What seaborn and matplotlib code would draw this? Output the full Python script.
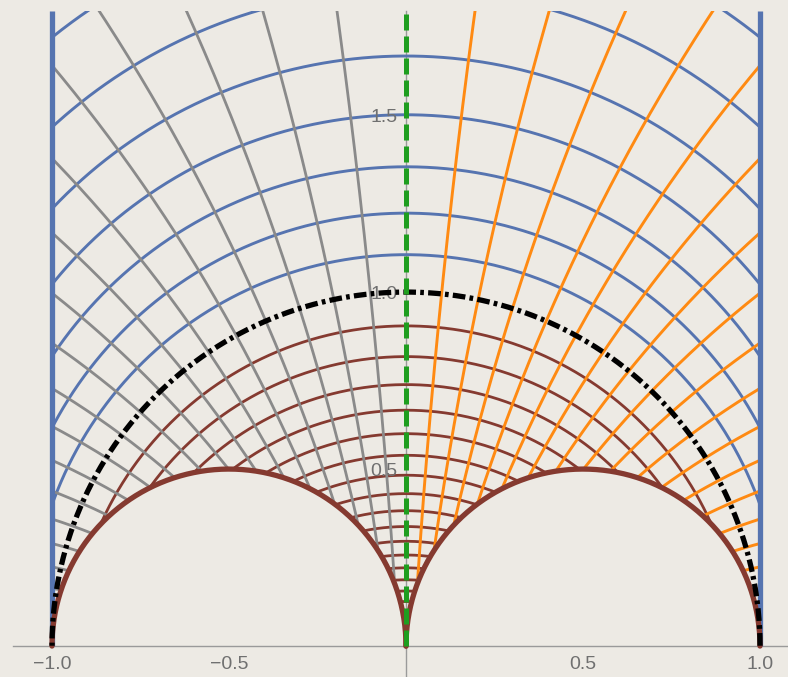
import numpy as np
import pandas as pd
import seaborn as sns
import matplotlib.pyplot as plt
from matplotlib.path import Path
from matplotlib.patches import PathPatch
from matplotlib.ticker import FixedLocator, MultipleLocator, FuncFormatter

# grid = polar coordinates (log|W|, arg W) pulled back by z = i (W - s) / (1 - s W)
focus = 0.43

# log|W| of the arcs outside (blue) and inside (brown) the unit circle
blue_u = [0.04, 0.08, 0.12, 0.16, 0.20, 0.24, 0.28]
brown_u = [-0.04, -0.08, -0.12, -0.16, -0.20, -0.24, -0.28, -0.32, -0.36, -0.40,
           -0.44, -0.48, -0.52, -0.56, -0.60, -0.64, -0.68, -0.72, -0.76, -0.80, -0.84]
# arg W (degrees) of the spokes on the left half; the right half mirrors them
gray_deg = [2.30, 4.70, 7.02, 9.41, 11.63, 13.84, 16.07, 18.27, 20.42, 22.68,
            24.84, 26.99, 29.15, 31.30, 33.33, 35.41, 37.45, 39.53, 41.42]
orange_deg = [-a for a in gray_deg]

# boundary of the region
edge_x = [-1.0, 1.0]
cusp_x = [-0.5, 0.5]
cusp_r = 0.5
y_top = 1.794

x_major = [-1.0, -0.5, 0.5, 1.0]
y_major = [0.5, 1.0, 1.5]

bg = "#EDEAE4"
blue = "#5674B0"
brown = "#853A30"
gray = "#8A8A8A"
orange = "#FF8A12"
green = "#1F9E1F"
label_col = "#707070"


def to_z(u, v):
    w = np.exp(u + 1j * v)
    z = 1j * (w - focus) / (1 - focus * w)
    return z.real, z.imag


def arc_frame(levels):
    v = np.linspace(-0.8, 0.8, 2000)
    parts = []
    for i, u in enumerate(levels):
        x, y = to_z(u, v)
        parts.append(pd.DataFrame({"x": x, "y": y, "line": i}))
    return pd.concat(parts, ignore_index=True)


def spoke_frame(angles):
    u = np.linspace(np.log(focus) - 0.1, 0.5, 2000)
    parts = []
    for i, a in enumerate(angles):
        x, y = to_z(u, np.radians(a))
        parts.append(pd.DataFrame({"x": x, "y": y, "line": i}))
    return pd.concat(parts, ignore_index=True)


sns.set_style("white", {"axes.facecolor": bg, "figure.facecolor": bg})
plt.rcParams["font.family"] = ["Liberation Sans", "DejaVu Sans"]

fig = plt.figure(figsize=(7.88, 6.77), dpi=100)
ax = fig.add_axes([13 / 788, 0, 775 / 788, 666 / 677])

# region above the two small semicircles, between x = -1 and x = 1
t = np.linspace(np.pi, 0, 300)
verts = [(edge_x[0], y_top), (edge_x[0], 0)]
verts += list(zip(cusp_x[0] + cusp_r * np.cos(t), cusp_r * np.sin(t)))
verts += list(zip(cusp_x[1] + cusp_r * np.cos(t), cusp_r * np.sin(t)))
verts += [(edge_x[1], 0), (edge_x[1], y_top), (edge_x[0], y_top)]
region = PathPatch(Path(verts), transform=ax.transData, fc="none", ec="none")
ax.add_patch(region)

families = [
    (arc_frame(blue_u), blue, 2.1),
    (arc_frame(brown_u), brown, 2.0),
    (spoke_frame(gray_deg), gray, 2.0),
    (spoke_frame(orange_deg), orange, 2.1),
]
for df, col, lw in families:
    n0 = len(ax.lines)
    sns.lineplot(data=df, x="x", y="y", units="line", estimator=None, sort=False,
                 color=col, linewidth=lw, ax=ax, legend=False)
    for ln in ax.lines[n0:]:
        ln.set_clip_path(region)
        ln.set_zorder(2)

# boundary: vertical lines and semicircles
for ex in edge_x:
    ax.plot([ex, ex], [0, y_top], color=blue, lw=3.8, solid_capstyle="butt", zorder=3)
tt = np.linspace(0, np.pi, 400)
for cx in cusp_x:
    ax.plot(cx + cusp_r * np.cos(tt), cusp_r * np.sin(tt), color=brown, lw=3.8, zorder=3)

# unit circle (|W| = 1) and the imaginary axis (arg W = 0)
xb, yb = to_z(0.0, np.linspace(-0.76, 0.76, 1500))
keep = yb >= 0
ax.plot(xb[keep], yb[keep], color="black", lw=3.8,
        linestyle=(0, (2.4, 0.8, 0.7, 0.8)), zorder=5)
xg, yg = to_z(np.linspace(np.log(focus), 0.5, 800), 0.0)
ax.plot(xg, yg, color=green, lw=3.6, linestyle=(0, (3.2, 1.2)), zorder=6)

ax.set_xlim(-1.1102, 1.0791)
ax.set_ylim(-0.0874, y_top)
ax.set_aspect("auto")
ax.set_xlabel("")
ax.set_ylabel("")

for side in ["top", "right"]:
    ax.spines[side].set_visible(False)
ax.spines["left"].set_position(("data", 0))
ax.spines["bottom"].set_position(("data", 0))
for side in ["left", "bottom"]:
    ax.spines[side].set_color("#9A9A9A")
    ax.spines[side].set_linewidth(1.0)
    ax.spines[side].set_zorder(1.5)

fmt = FuncFormatter(lambda v, p: f"{v:.1f}".replace("-", "\u2212"))
ax.xaxis.set_major_locator(FixedLocator(x_major))
ax.xaxis.set_minor_locator(MultipleLocator(0.1))
ax.yaxis.set_major_locator(FixedLocator(y_major))
ax.yaxis.set_minor_locator(MultipleLocator(0.1))
ax.xaxis.set_major_formatter(fmt)
ax.yaxis.set_major_formatter(fmt)
ax.tick_params(which="both", direction="in", color="#8F8F8F", width=0.8,
               labelcolor=label_col, labelsize=14)
ax.tick_params(which="major", length=5)
ax.tick_params(which="minor", length=3)
ax.tick_params(axis="x", pad=7)
ax.tick_params(axis="y", pad=6)
ax.xaxis.set_zorder(4.5)
ax.yaxis.set_zorder(4.5)

fig.savefig("out.png", dpi=100, facecolor=bg)
